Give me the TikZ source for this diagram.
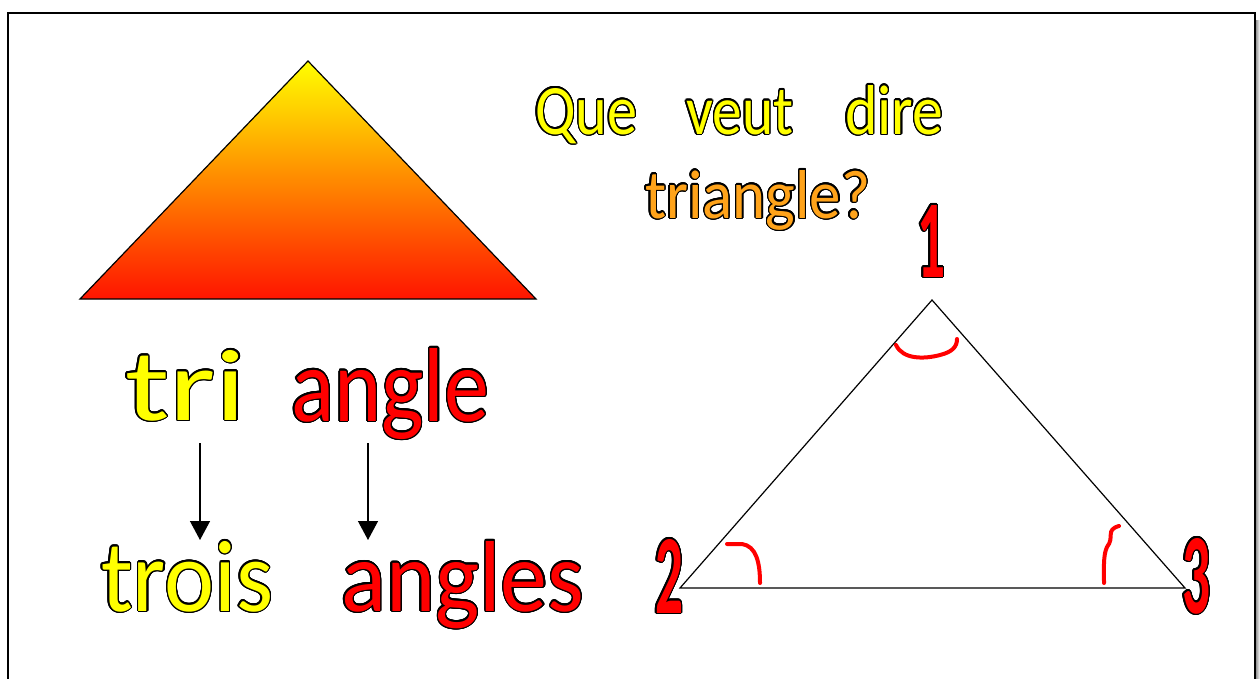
\documentclass[tikz,border=0pt]{standalone}
\usepackage{fontspec}
\setmainfont{Carlito}
\usepackage[copies]{contour}
\contourlength{1.3pt}
\contournumber{24}
\usetikzlibrary{arrows.meta}
\definecolor{tyellow}{HTML}{FFFF00}
\definecolor{tred}{HTML}{FF0000}
\definecolor{torange}{HTML}{FFA31A}
\definecolor{trimid}{HTML}{FFB000}
\definecolor{tribot}{HTML}{FF1400}
\newcommand{\wordbox}[3]{\contour{black}{\resizebox{#1}{#2}{#3}}}
\begin{document}
\begin{tikzpicture}[x=1pt,y=-1pt,
  word/.style={inner sep=0pt, anchor=base west},
  yel/.style={word, text=tyellow},
  rd/.style={word, text=tred},
  org/.style={word, text=torange},
  num/.style={word, text=tred, font=\bfseries},
  anglemark/.style={draw=tred, line width=4pt, line cap=round},
  triedge/.style={draw=black, line width=1.2pt},
  arr/.style={draw=black, line width=1.3pt, -{Triangle[length=19pt,width=20pt]}}]
\useasboundingbox (0,0) rectangle (1260,678);
% frame and shadow
\shade[left color=gray!80, right color=white] (1256,20) rectangle (1260,678);
\draw[line width=2pt] (7.5,12.5) rectangle (1255,700);
% gradient triangle
\coordinate (gA) at (308,61);
\coordinate (gB) at (80,299);
\coordinate (gC) at (536,299);
\shade[top color=tyellow, middle color=trimid, bottom color=tribot, draw=black, line width=1.2pt, line join=miter] (gA) -- (gB) -- (gC) -- cycle;
% question
\node[yel] (que) at (535,134) {\wordbox{102pt}{46pt}{Que}};
\node[yel] (veut) at (686,134) {\wordbox{107pt}{44pt}{veut}};
\node[yel] (dire) at (845,134) {\wordbox{98pt}{49pt}{dire}};
\node[org] (trq) at (645,218) {\wordbox{225pt}{48pt}{triangle?}};
% words
\node[yel] (tri) at (125,420) {\wordbox{121pt}{70pt}{tri}};
\node[rd] (angle) at (291,421) {\wordbox{198pt}{73pt}{angle}};
\node[yel] (trois) at (101,611) {\wordbox{172pt}{70pt}{trois}};
\node[rd] (angles) at (341,611) {\wordbox{243pt}{70pt}{angles}};
% arrows
\coordinate (a1s) at (200,443);
\coordinate (a1e) at (200,540);
\coordinate (a2s) at (368,443);
\coordinate (a2e) at (368,540);
\draw[arr] (a1s) -- (a1e);
\draw[arr] (a2s) -- (a2e);
% labelled triangle
\coordinate (v1) at (932,300);
\coordinate (v2) at (680,588);
\coordinate (v3) at (1185,588);
\draw[triedge, line join=miter] (v1) -- (v2) -- (v3) -- cycle;
\node[num] (n1) at (917,277) {\wordbox{28pt}{72pt}{1}};
\node[num] (n2) at (655,613) {\wordbox{28pt}{74pt}{2}};
\node[num] (n3) at (1182,613) {\wordbox{28pt}{75pt}{3}};
% angle marks
\draw[anglemark] (896,345) .. controls (903,360) and (925,359) .. (940,355) .. controls (952,352) and (957,347) .. (957,339);
\draw[anglemark] (727,544) -- (742,544) .. controls (756,546) and (760,562) .. (760,583);
\draw[anglemark] (1119,526) .. controls (1105,530) and (1115,537) .. (1107,547) .. controls (1103,555) and (1104,570) .. (1104,583);
\end{tikzpicture}
\end{document}
